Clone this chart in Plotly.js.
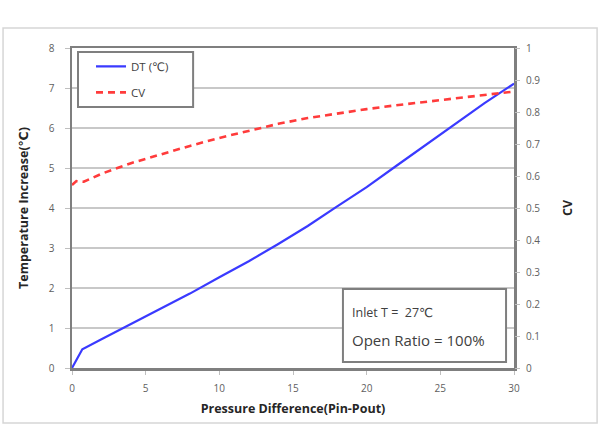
<!DOCTYPE html>
<html>
<head>
<meta charset="utf-8">
<script src="https://cdn.plot.ly/plotly-3.0.1.min.js"></script>
<style>
  html, body { margin: 0; padding: 0; background: #fff; }
  #chart { width: 600px; height: 425px; }
</style>
</head>
<body>
<div id="chart"></div>
<script>
// Temperature increase across the valve versus pressure difference
const dtPressure = [0, 0.7, 2, 4, 6, 8, 10, 12, 14, 16, 18, 20, 22, 24, 26, 28, 30];
const dtValues   = [0, 0.47, 0.72, 1.10, 1.47, 1.86, 2.27, 2.67, 3.10, 3.55, 4.04, 4.52, 5.05, 5.57, 6.09, 6.62, 7.11];

// Flow coefficient (right axis)
const cvPressure = [0, 0.3, 0.8, 2, 4, 6, 8, 10, 12, 14, 16, 18, 20, 22, 24, 26, 28, 30];
const cvValues   = [0.572, 0.584, 0.582, 0.607, 0.640, 0.668, 0.694, 0.719, 0.742, 0.763, 0.781, 0.796, 0.809, 0.821, 0.832, 0.843, 0.853, 0.864];

const xTicks = [0, 5, 10, 15, 20, 25, 30];
const yTicks = [0, 1, 2, 3, 4, 5, 6, 7, 8];
const y2Ticks = [0, 0.1, 0.2, 0.3, 0.4, 0.5, 0.6, 0.7, 0.8, 0.9, 1];
const y2Labels = ['0', '0.1', '0.2', '0.3', '0.4', '0.5', '0.6', '0.7', '0.8', '0.9', '1'];

const FONT = '"Open Sans", Lato, "DejaVu Sans", sans-serif';
const tickFont = { family: FONT, size: 10, color: '#606060' };
const titleFont = { family: FONT, size: 12.5, color: '#262626', weight: 'bold' };

const traces = [
  {
    x: dtPressure, y: dtValues, name: 'DT (℃)', type: 'scatter', mode: 'lines',
    line: { color: '#3a3aff', width: 2.2 }, legendgroup: 'a'
  },
  {
    x: cvPressure, y: cvValues, name: 'CV', type: 'scatter', mode: 'lines', yaxis: 'y2',
    line: { color: '#ff3b3b', width: 2.6, dash: '7px,5px' }, legendgroup: 'b'
  }
];

const layout = {
  width: 600, height: 425,
  margin: { l: 72, r: 86, t: 48, b: 57 },
  paper_bgcolor: '#ffffff',
  plot_bgcolor: '#ffffff',
  showlegend: true,
  legend: {
    x: 0.043, y: 0.988, xanchor: 'left', yanchor: 'top',
    borderwidth: 0, bgcolor: 'rgba(0,0,0,0)',
    font: { family: FONT, size: 11.5, color: '#404040' },
    traceorder: 'grouped', tracegroupgap: 7, itemwidth: 30
  },
  xaxis: {
    range: [0, 30], tickvals: xTicks, ticks: 'outside', ticklen: 4, tickcolor: '#bfbfbf',
    ticklabelstandoff: 5,
    showgrid: false, zeroline: false,
    showline: true, mirror: true, linecolor: '#7f7f7f', linewidth: 2.5,
    tickfont: tickFont,
    title: { text: 'Pressure Difference(Pin-Pout)', font: titleFont, standoff: 11 }
  },
  yaxis: {
    range: [0, 8], tickvals: yTicks, ticks: 'outside', ticklen: 5, tickcolor: '#bfbfbf',
    ticklabelstandoff: 8,
    showgrid: true, gridcolor: '#c8c8c8', gridwidth: 1.5, zeroline: false,
    showline: true, mirror: true, linecolor: '#7f7f7f', linewidth: 2.5,
    tickfont: tickFont,
    title: { text: 'Temperature Increase(℃)', font: titleFont, standoff: 18 }
  },
  yaxis2: {
    overlaying: 'y', side: 'right', range: [0, 1],
    tickvals: y2Ticks, ticktext: y2Labels, ticks: 'outside', ticklen: 5, tickcolor: '#bfbfbf',
    ticklabelstandoff: 4,
    showgrid: false, zeroline: false, showline: false,
    tickfont: tickFont,
    title: { text: 'CV', font: titleFont, standoff: 23 }
  },
  shapes: [
    // outer chart frame
    { type: 'rect', xref: 'paper', yref: 'paper', x0: -0.156, x1: 1.188, y0: -0.172, y1: 1.0625,
      line: { color: '#d6d6d6', width: 1.5 }, fillcolor: 'rgba(0,0,0,0)', layer: 'below' },
    // legend frame
    { type: 'rect', xref: 'paper', yref: 'paper', x0: 0.0136, x1: 0.274, y0: 0.816, y1: 0.9875,
      line: { color: '#7f7f7f', width: 2 }, fillcolor: '#ffffff' },
    // note box
    { type: 'rect', xref: 'paper', yref: 'paper', x0: 0.613, x1: 0.982, y0: 0.019, y1: 0.247,
      line: { color: '#7f7f7f', width: 2 }, fillcolor: '#ffffff' }
  ],
  annotations: [
    { xref: 'paper', yref: 'paper', x: 0.630, y: 0.172, xanchor: 'left', yanchor: 'middle',
      text: 'Inlet T =  27℃', showarrow: false,
      font: { family: FONT, size: 12.5, color: '#404040' } },
    { xref: 'paper', yref: 'paper', x: 0.630, y: 0.0875, xanchor: 'left', yanchor: 'middle',
      text: 'Open Ratio = 100%', showarrow: false,
      font: { family: FONT, size: 15, color: '#404040' } }
  ]
};

Plotly.newPlot('chart', traces, layout, { staticPlot: true, displayModeBar: false });
</script>
</body>
</html>
